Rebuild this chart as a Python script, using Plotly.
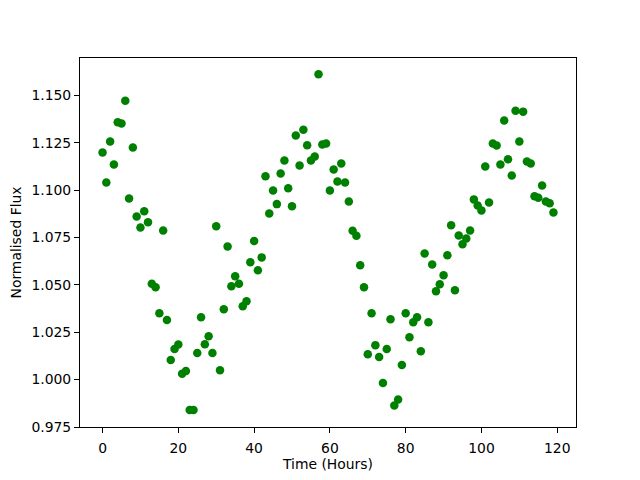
import plotly.graph_objects as go

time_hours = list(range(120))
flux = [
    1.1198, 1.1040, 1.1256, 1.1135, 1.1358, 1.1351, 1.1472, 1.0956, 1.1225, 1.0861,
    1.0803, 1.0888, 1.0830, 1.0506, 1.0487, 1.0350, 1.0787, 1.0314, 1.0103, 1.0162,
    1.0185, 1.0031, 1.0045, 0.9840, 0.9840, 1.0140, 1.0329, 1.0187, 1.0229, 1.0140,
    1.0809, 1.0050, 1.0371, 1.0703, 1.0493, 1.0545, 1.0506, 1.0387, 1.0414, 1.0619,
    1.0731, 1.0577, 1.0645, 1.1073, 1.0877, 1.0998, 1.0926, 1.1088, 1.1156, 1.1010,
    1.0915, 1.1288, 1.1130, 1.1319, 1.1237, 1.1156, 1.1177, 1.1611, 1.1240, 1.1246,
    1.0998, 1.1109, 1.1045, 1.1140, 1.1040, 1.0940, 1.0785, 1.0759, 1.0603, 1.0487,
    1.0134, 1.0350, 1.0182, 1.0119, 0.9982, 1.0161, 1.0319, 0.9864, 0.9895, 1.0077,
    1.0350, 1.0224, 1.0303, 1.0329, 1.0150, 1.0666, 1.0303, 1.0608, 1.0466, 1.0503,
    1.0551, 1.0656, 1.0814, 1.0471, 1.0761, 1.0714, 1.0745, 1.0787, 1.0951, 1.0919,
    1.0893, 1.1125, 1.0935, 1.1246, 1.1235, 1.1135, 1.1367, 1.1163, 1.1077, 1.1419,
    1.1256, 1.1414, 1.1151, 1.1140, 1.0967, 1.0960, 1.1024, 1.0940, 1.0930, 1.0882,
]

FONT = dict(family="DejaVu Sans", size=13.9, color="black")

fig = go.Figure()
fig.add_trace(go.Scatter(
    x=time_hours, y=flux, mode="markers",
    marker=dict(color="#008000", size=8.5, line=dict(width=0)),
    showlegend=False,
))

axis_common = dict(
    showgrid=False, zeroline=False, showline=True, linecolor="black", linewidth=1,
    mirror=True, ticks="outside", ticklen=5, tickwidth=1, tickcolor="black",
    tickfont=FONT, automargin=False,
)
fig.update_xaxes(range=[-5.95, 124.95], dtick=20, tick0=0, ticklabelstandoff=3,
                 title=dict(text="Time (Hours)", font=FONT, standoff=4),
                 **axis_common)
fig.update_yaxes(range=[0.975, 1.1697], dtick=0.025, tick0=0.975, tickformat=".3f",
                 title=dict(text="Normalised Flux", font=FONT, standoff=11),
                 **axis_common)
# the page body has an 8px default margin, so offset the margins accordingly
fig.update_layout(
    width=632, height=472,
    margin=dict(l=72, r=64, t=50, b=53),
    plot_bgcolor="white", paper_bgcolor="white",
)
fig.write_html("out.html")
